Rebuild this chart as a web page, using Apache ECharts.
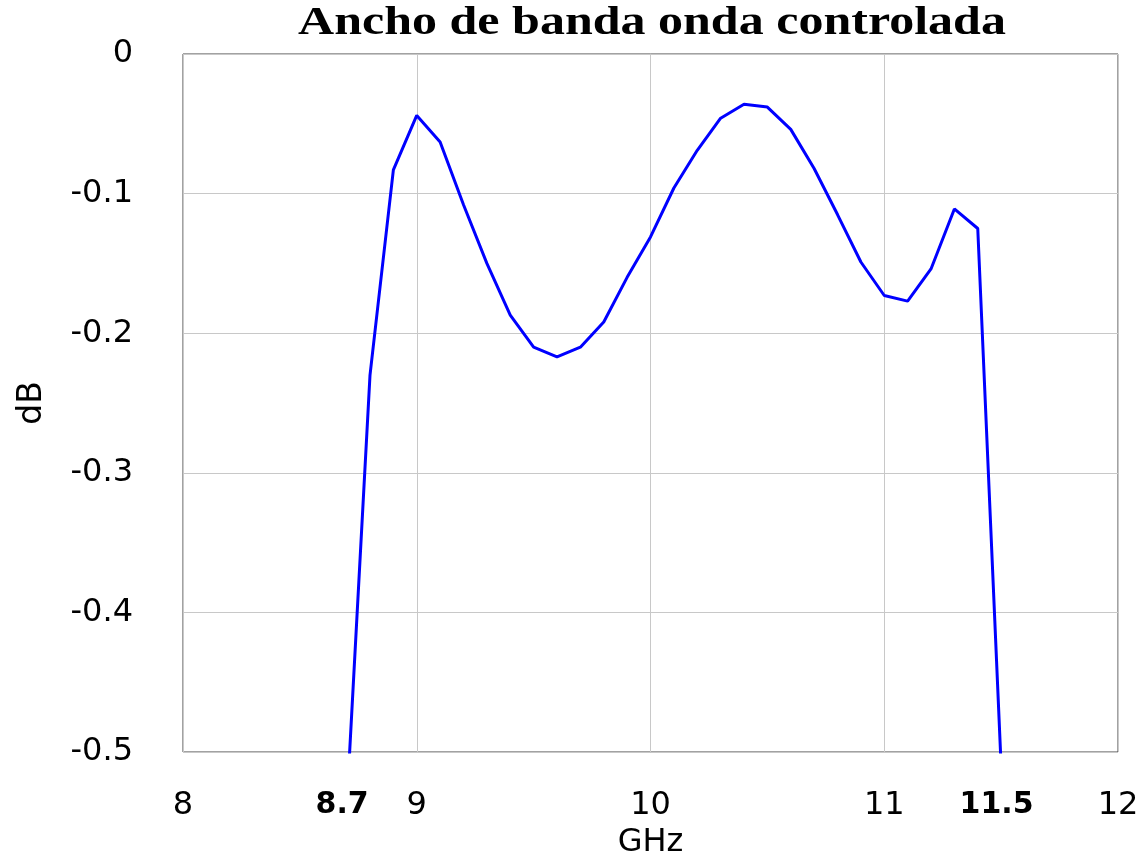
<!DOCTYPE html>
<html>
<head>
<meta charset="utf-8">
<title>Ancho de banda onda controlada</title>
<script src="https://cdn.jsdelivr.net/npm/echarts@6/dist/echarts.min.js"></script>
<style>
  html, body { margin: 0; padding: 0; background: #ffffff; }
  #chart { width: 1145px; height: 857px; }
</style>
</head>
<body>
<div id="chart"></div>
<script>
// Frequency sweep (GHz) and measured transmission (dB)
const freqGHz = [8.7, 8.8, 8.9, 9.0, 9.1, 9.2, 9.3, 9.4, 9.5, 9.6, 9.7, 9.8, 9.9,
                 10.0, 10.1, 10.2, 10.3, 10.4, 10.5, 10.6, 10.7, 10.8, 10.9,
                 11.0, 11.1, 11.2, 11.3, 11.4, 11.5];
const gainDB = [-0.54, -0.230, -0.083, -0.044, -0.063, -0.108, -0.150, -0.187, -0.210, -0.217,
                -0.210, -0.192, -0.160, -0.131, -0.096, -0.069, -0.046, -0.036, -0.038,
                -0.054, -0.082, -0.115, -0.149, -0.173, -0.177, -0.154, -0.111, -0.125, -0.51];

// Band edges marked in bold on the frequency axis
const bandEdges = [8.7, 11.5];

const titleText = 'Ancho de banda onda controlada';
const xName = 'GHz';
const yName = 'dB';

const points = freqGHz.map((f, i) => [f, gainDB[i]]);

const chart = echarts.init(document.getElementById('chart'), null, { renderer: 'canvas' });

const labelFont = 'DejaVu Sans';

chart.setOption({
  backgroundColor: '#ffffff',
  animation: false,
  graphic: [{
    type: 'text',
    x: 652,
    y: 23,
    scaleX: 1.22,
    style: {
      text: titleText,
      font: 'bold 41px "Liberation Serif"',
      fill: '#000000',
      textAlign: 'center',
      textVerticalAlign: 'middle'
    }
  }],
  grid: {
    left: 183, right: 27, top: 54, bottom: 105,
    outerBoundsMode: 'none',
    containLabel: false,
    show: true, borderColor: '#444444', borderWidth: 1, backgroundColor: '#ffffff'
  },
  xAxis: [{
    type: 'value',
    min: 8, max: 12, interval: 1,
    name: xName,
    nameLocation: 'middle',
    nameGap: 74,
    nameTextStyle: { fontFamily: labelFont, fontSize: 32, color: '#000000' },
    axisLine: { show: false },
    axisTick: { show: false },
    splitLine: { show: true, lineStyle: { color: '#c8c8c8', width: 1 } },
    axisLabel: {
      margin: 38,
      fontFamily: labelFont, fontSize: 32, color: '#000000',
      formatter: v => String(Math.round(v))
    }
  }, {
    type: 'value',
    min: 8, max: 12,
    position: 'bottom',
    axisLine: { show: false },
    axisTick: { show: false },
    splitLine: { show: false },
    axisLabel: {
      customValues: bandEdges,
      margin: 38,
      padding: [0, 9, 0, 0],
      fontFamily: labelFont, fontSize: 30, fontWeight: 'bold', color: '#000000',
      formatter: v => v.toFixed(1)
    }
  }],
  yAxis: {
    type: 'value',
    min: -0.5, max: 0, interval: 0.1,
    name: yName,
    nameLocation: 'middle',
    nameGap: 134,
    nameRotate: 90,
    nameTextStyle: { fontFamily: labelFont, fontSize: 33, color: '#000000' },
    axisLine: { show: false },
    axisTick: { show: false },
    splitLine: { show: true, lineStyle: { color: '#c8c8c8', width: 1 } },
    axisLabel: {
      margin: 50,
      fontFamily: labelFont, fontSize: 32, color: '#000000',
      formatter: v => (Math.abs(v) < 1e-9 ? '0' : v.toFixed(1))
    }
  },
  series: [{
    type: 'line',
    xAxisIndex: 0,
    data: points,
    showSymbol: false,
    clip: true,
    lineStyle: { color: '#0000ff', width: 3 },
    itemStyle: { color: '#0000ff' }
  }]
});
</script>
</body>
</html>
